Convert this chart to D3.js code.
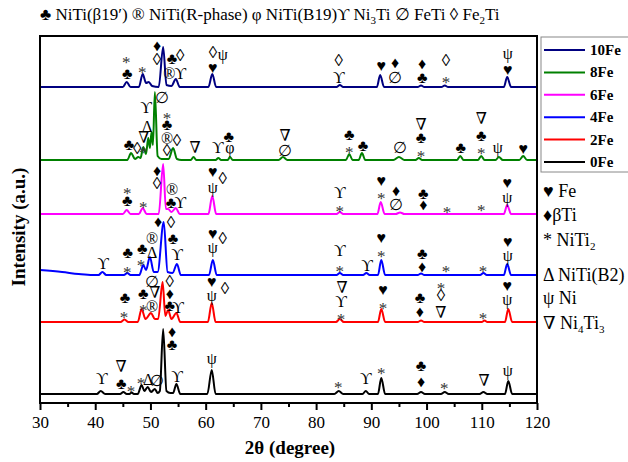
<!DOCTYPE html>
<html>
<head>
<meta charset="utf-8">
<script src="https://cdn.jsdelivr.net/npm/d3@7"></script>
<style>
  body { margin: 0; background: #fff; }
  svg text { font-family: "Liberation Serif", "Times New Roman", "DejaVu Serif", serif; }
</style>
</head>
<body>
<script>
// sample names, colours and vertical offsets (a.u.)
var samples = ["0Fe", "2Fe", "4Fe", "6Fe", "8Fe", "10Fe"];
var colors = ["#000000", "#ff0000", "#0000ff", "#ff00ff", "#008000", "#000080"];
var offsets = [9, 81, 128, 189, 243, 316];

// pattern points [2theta, intensity above baseline]
var fe0 = [[30,0],[40.3,0],[41.0,3],[41.8,0],[44.5,0],[45.1,2],[45.7,0],[46.2,0],[46.6,1.5],[47.0,0],[47.7,0],[48.4,9],[48.9,3],[49.5,7],[50.1,2],[50.8,5],[51.3,1],[51.7,3],[52.3,65],[52.9,3],[53.6,1],[54.1,1],[54.7,10],[55.4,0],[60.3,0],[61.1,24],[61.8,0],[83.3,0],[84.1,3],[84.9,0],[88.4,0],[89.0,3],[89.6,0],[91.2,0],[91.8,16],[92.5,0],[98.3,0],[99.0,2],[99.7,0],[102.6,0],[103.3,2],[104,0],[109.6,0],[110.3,2],[111,0],[114.2,0],[114.8,13],[115.5,0],[120,0]];
var fe2 = [[30,0],[44.6,0],[45.3,2.5],[46.0,0],[47.7,0],[48.4,13],[49.1,3],[50.1,9],[50.8,3],[51.4,3],[52.2,40],[52.7,6],[53.2,12],[53.8,3],[54.7,9],[55.4,0],[60.4,0],[61.1,19],[61.8,0],[83.6,0],[84.3,3],[85,0],[91.2,0],[91.8,13],[92.5,0],[98.4,0],[99,1.5],[99.6,0],[110,0],[110.5,1.5],[111,0],[114.2,0],[114.8,13],[115.5,0],[120,0]];
var fe4 = [[30,5],[34,3],[37,1],[39.5,0],[40.6,0],[41.3,3],[42.0,0],[45.2,0],[45.8,2],[46.4,0],[48.0,0],[48.7,10],[49.2,5],[49.9,18],[50.6,3],[51.3,3],[52.4,53],[53.1,3],[54.0,2],[54.8,11],[55.5,0],[60.6,0],[61.3,15],[62.0,0],[83.7,0],[84.3,2],[84.9,0],[88.5,0],[89.1,2],[89.7,0],[91.2,0],[91.8,15],[92.5,0],[98.4,0],[99,1.5],[99.6,0],[109.7,0],[110.3,2],[110.9,0],[114,0],[114.6,11],[115.3,0],[120,0]];
var fe6 = [[30,0],[45.0,0],[45.7,4],[46.4,0],[47.9,0],[48.6,6],[49.3,0],[51.5,0],[52.3,50],[52.8,5],[53.2,5],[53.8,2],[54.6,6],[55.3,0],[60.5,0],[61.2,18],[61.9,0],[83.7,0],[84.3,2],[84.9,0],[91.1,0],[91.7,12],[92.4,0],[94.4,0],[95.2,1.5],[96,0],[114,0],[114.6,9],[115.3,0],[120,0]];
var fe8 = [[30,0],[45.8,0],[46.5,7],[47.2,1],[47.8,3],[48.2,2],[48.7,13],[49.2,6],[49.6,22],[49.9,12],[50.2,28],[50.45,15],[50.8,68],[51.3,4],[52.0,1],[53.3,1],[54.1,12],[54.8,1],[55.6,0],[57.3,0],[57.8,3],[58.3,0],[61.8,0],[62.3,2],[62.8,0],[64,0],[64.4,3],[64.9,0],[73.2,0],[74.0,3],[74.8,0],[85.4,0],[86.0,6],[86.6,0],[87.7,0],[88.3,7],[88.9,0],[94.0,0],[95.0,3],[96.0,0],[98.0,0],[98.6,2],[99.2,0],[105.5,0],[106.1,4],[106.7,0],[109.3,0],[109.9,4],[110.5,0],[112.5,0],[113.1,3],[113.8,0],[116.8,0],[117.5,4],[118.2,0],[120,0]];
var fe10 = [[30,0],[45.0,0],[45.7,5],[46.4,0],[47.9,0],[48.6,13],[49.2,4],[49.7,5],[50.3,1],[51.5,0],[52.3,40],[52.9,2],[53.8,1],[54.6,8],[55.3,0],[60.5,0],[61.2,13],[61.9,0],[83.7,0],[84.3,2],[84.9,0],[91.0,0],[91.6,12],[92.3,0],[98.4,0],[99,1.5],[99.6,0],[102.7,0],[103.3,1.5],[103.9,0],[114,0],[114.6,10],[115.3,0],[120,0]];
var patterns = [fe0, fe2, fe4, fe6, fe8, fe10];

// phase marks [2theta, a.u. level, symbol]
var marks0 = [[53.9,72,"♦"],[53.9,59,"♣"],[44.7,37,"∇"],[41.2,25,"ϒ"],[44.7,20,"♣"],[46.5,17,"*"],[48.3,25,"*"],[49.6,24,"Δ"],[51.2,23,"∅"],[54.8,27,"ϒ"],[61.1,45,"ψ"],[84.0,21,"*"],[89.0,25,"ϒ"],[91.8,35,"*"],[99.0,38,"♣"],[99.0,22,"♦"],[103.2,20,"*"],[110.4,23,"∇"],[114.7,33,"ψ"]];
var marks2 = [[50.3,122,"∅"],[53.5,122,"◊"],[50.8,111,"∇"],[53.5,110,"♦"],[45.4,106,"♣"],[45.2,91,"*"],[48.7,110,"♣"],[48.7,98,"*"],[50.3,97,"®"],[53.5,98,"♣"],[55.0,96,"ϒ"],[61.1,122,"♥"],[61.1,108,"ψ"],[63.5,115,"◊"],[84.7,116,"∇"],[84.5,102,"ϒ"],[84.5,89,"*"],[92.1,114,"♥"],[92.1,100,"*"],[98.8,106,"♣"],[98.8,92,"♦"],[102.6,120,"*"],[102.6,108,"◊"],[102.6,91,"∇"],[110.2,90,"*"],[114.6,118,"♥"],[114.6,104,"ψ"]];
var marks4 = [[51.4,182,"♦"],[53.7,181,"◊"],[50.3,165,"®"],[50.3,151,"Δ"],[48.5,155,"♣"],[48.3,143,"*"],[45.9,151,"♣"],[45.8,136,"*"],[54.1,165,"♣"],[54.8,149,"ϒ"],[41.4,140,"ϒ"],[61.3,170,"♥"],[63.1,165,"◊"],[61.3,156,"ψ"],[84.3,153,"ϒ"],[84.3,137,"*"],[89.2,138,"ϒ"],[91.8,166,"♥"],[91.8,152,"*"],[99.2,150,"♣"],[99.2,137,"♦"],[103.5,137,"*"],[110.2,137,"*"],[114.7,162,"♥"],[114.7,148,"ψ"]];
var marks6 = [[51.2,233,"♦"],[51.2,220,"◊"],[45.8,215,"*"],[45.8,203,"♣"],[48.7,201,"*"],[53.9,214,"®"],[53.7,201,"♣"],[55.4,201,"ϒ"],[61.3,232,"♥"],[61.3,216,"ψ"],[63.1,225,"◊"],[84.3,211,"ϒ"],[84.3,197,"*"],[91.8,223,"♥"],[91.8,210,"*"],[94.5,213,"♦"],[94.5,199,"∅"],[99.4,210,"♣"],[99.4,199,"♦"],[103.7,196,"*"],[109.9,198,"*"],[114.6,221,"♥"],[114.6,206,"ψ"]];
var marks8 = [[52.1,306,"∅"],[49.2,296,"ϒ"],[53.0,290,"*"],[53.0,279,"♣"],[49.4,277,"Δ"],[53.0,265,"®"],[54.8,263,"◊"],[53.0,253,"◊"],[46.1,259,"♣"],[47.6,255,"◊"],[48.8,266,"∇"],[48.7,256,"*"],[58.1,256,"∇"],[62.2,256,"ϒ"],[64.4,256,"φ"],[64.2,267,"♣"],[74.4,268,"∇"],[74.4,253,"∅"],[86.0,269,"♣"],[86.0,256,"*"],[88.5,258,"♣"],[95.2,256,"∅"],[99.0,279,"∇"],[99.0,266,"♣"],[99.0,252,"*"],[106.2,256,"♣"],[109.9,285,"∇"],[109.9,268,"♣"],[109.9,255,"*"],[112.9,256,"ψ"],[117.5,255,"♥"]];
var marks10 = [[45.6,346,"*"],[45.8,330,"♣"],[48.5,336,"*"],[51.2,358,"♦"],[51.2,344,"◊"],[53.9,345,"♣"],[55.4,348,"◊"],[53.4,330,"®"],[55.4,330,"ϒ"],[61.3,351,"◊"],[63.1,349,"ψ"],[61.3,336,"♥"],[84.1,343,"◊"],[84.1,326,"ϒ"],[91.8,338,"♥"],[94.3,341,"♦"],[94.3,326,"∅"],[99.2,340,"♦"],[99.2,326,"♣"],[103.5,343,"◊"],[103.5,326,"*"],[114.7,350,"ψ"],[114.7,334,"♥"]];
var allMarks = marks0.concat(marks2, marks4, marks6, marks8, marks10);

var xTicks = [30, 40, 50, 60, 70, 80, 90, 100, 110, 120];
var xMinor = [35, 45, 55, 65, 75, 85, 95, 105, 115];

var serif = "Liberation Serif, Times New Roman, DejaVu Serif, serif";
var w = 628, h = 462;
var svg = d3.select("body").append("svg")
    .attr("width", w)
    .attr("height", h)
    .attr("font-family", serif);

var x = d3.scaleLinear().domain([30, 120]).range([40, 537]);
var y = d3.scaleLinear().domain([0, 367]).range([403, 36]);

// curves
patterns.forEach(function(p, i) {
  var line = d3.line()
      .x(function(d) { return x(d[0]); })
      .y(function(d) { return y(d[1] + offsets[i]); })
      .curve(d3.curveMonotoneX);
  svg.append("path")
      .datum(p)
      .attr("d", line)
      .attr("fill", "none")
      .attr("stroke", colors[i])
      .attr("stroke-width", 2);
});

// phase symbols
svg.append("g").selectAll("text")
  .data(allMarks)
  .enter().append("text")
    .attr("x", function(d) { return x(d[0]); })
    .attr("y", function(d) { return y(d[1]) + (d[2] == "*" ? 5 : 0); })
    .attr("text-anchor", "middle")
    .attr("dominant-baseline", "central")
    .attr("font-size", function(d) { return d[2] == "*" ? 17 : (d[2] == "◊" ? 17 : 16); })
    .attr("fill", function(d) { return d[2] == "*" ? "#333" : "#000"; })
    .text(function(d) { return d[2]; });

// frame
svg.append("rect")
    .attr("x", x(30)).attr("y", y(367))
    .attr("width", x(120) - x(30)).attr("height", y(0) - y(367))
    .attr("fill", "none").attr("stroke", "#000").attr("stroke-width", 2);

var ax = svg.append("g").attr("transform", "translate(0," + y(0) + ")");
ax.call(d3.axisBottom(x).tickValues(xTicks).tickSize(7).tickFormat(d3.format("d")))
  .call(function(g) { g.select(".domain").remove(); });
ax.attr("font-family", serif).attr("font-size", 17);
ax.selectAll("line").attr("stroke-width", 2);
ax.selectAll("text").attr("dy", "0.9em");
var ax2 = svg.append("g").attr("transform", "translate(0," + y(0) + ")");
ax2.call(d3.axisBottom(x).tickValues(xMinor).tickSize(4).tickFormat(""))
  .call(function(g) { g.select(".domain").remove(); });
ax2.selectAll("line").attr("stroke-width", 2);

// axis titles
svg.append("text")
    .attr("x", 290).attr("y", 454)
    .attr("text-anchor", "middle")
    .attr("font-size", 19).attr("font-weight", "bold")
    .text("2θ (degree)");
svg.append("text")
    .attr("transform", "translate(25,227) rotate(-90)")
    .attr("text-anchor", "middle")
    .attr("font-size", 19).attr("font-weight", "bold")
    .text("Intensity (a.u.)");

// top phase legend
var topLeg = svg.append("text").attr("x", 40).attr("y", 20).attr("font-size", 17);
[["♣ NiTi(β19′) ® NiTi(R-phase) φ NiTi(B19)ϒ Ni", 0, 0], ["3", 1, 4], ["Ti ∅ FeTi ◊ Fe", 0, -4], ["2", 1, 4], ["Ti", 0, -4]]
  .forEach(function(s) {
    topLeg.append("tspan")
      .attr("font-size", s[1] ? 11 : 17)
      .attr("dy", s[2])
      .text(s[0]);
  });

// sample legend
var leg = svg.append("g");
leg.append("rect").attr("x", 541).attr("y", 37).attr("width", 100).attr("height", 135)
    .attr("fill", "#fff").attr("stroke", "#888").attr("stroke-width", 1);
samples.slice().reverse().forEach(function(s, i) {
  var yy = 50 + i * 22.4;
  var c = colors[samples.length - 1 - i];
  leg.append("line").attr("x1", 544).attr("x2", 585).attr("y1", yy).attr("y2", yy)
      .attr("stroke", c).attr("stroke-width", 2);
  leg.append("text").attr("x", 590).attr("y", yy).attr("dominant-baseline", "central")
      .attr("font-size", 15).attr("font-weight", "bold").text(s);
});

// phase key on the right
var key = [["♥ Fe"], ["♦βTi"], ["* NiTi", "2"], ["Δ NiTi(B2)"], [" ψ Ni"], ["∇ Ni", "4", "Ti", "3"]];
var keyY = [191, 215, 240, 275, 298, 323];
key.forEach(function(k, i) {
  var t = svg.append("text").attr("x", 543).attr("y", keyY[i] + 6).attr("font-size", 18);
  t.append("tspan").text(k[0]);
  if (k[1]) t.append("tspan").attr("font-size", 11).attr("dy", 4).text(k[1]);
  if (k[2]) t.append("tspan").attr("dy", -4).text(k[2]);
  if (k[3]) t.append("tspan").attr("font-size", 11).attr("dy", 4).text(k[3]);
});
</script>
</body>
</html>
